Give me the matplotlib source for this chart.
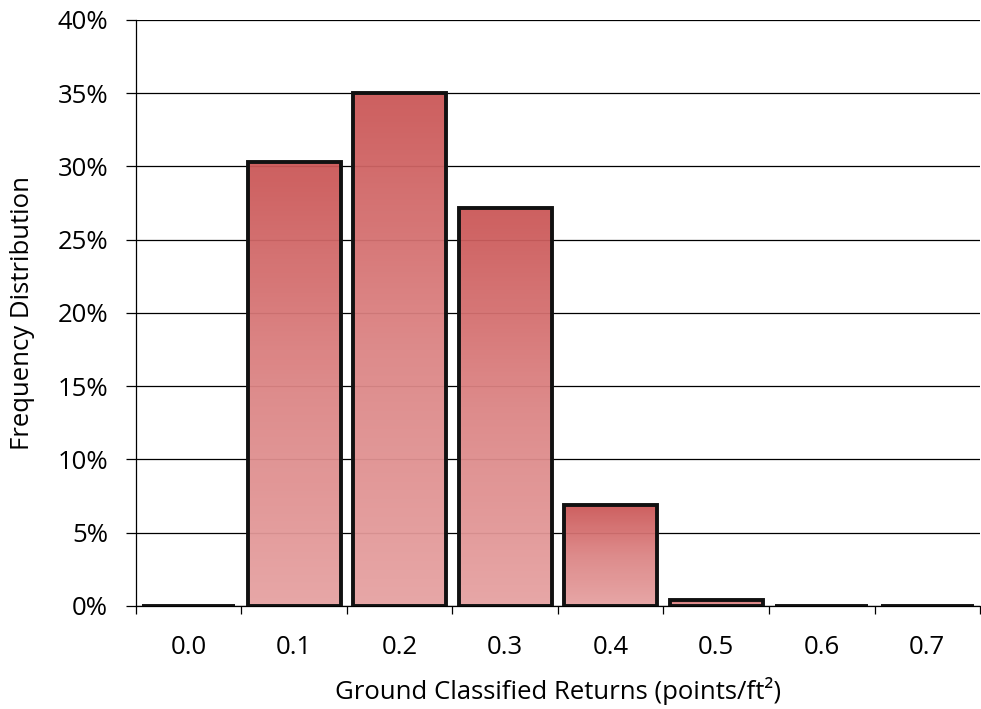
import numpy as np
import matplotlib.pyplot as plt
from matplotlib.colors import LinearSegmentedColormap
from matplotlib.ticker import FuncFormatter

# Data
categories = ["0.0", "0.1", "0.2", "0.3", "0.4", "0.5", "0.6", "0.7"]
freq = [0.0, 30.3, 35.0, 27.2, 6.9, 0.4, 0.0, 0.0]

plt.rcParams['font.family'] = ['Open Sans', 'DejaVu Sans']
fs = 18.5

fig = plt.figure(figsize=(9.81, 7.09), dpi=100)
ax = fig.add_axes([0.1386, 0.1453, 0.8604, 0.8265])

x = np.arange(len(categories))
width = 0.88

# gradient: dark red at top, pale pink at bottom
cmap = LinearSegmentedColormap.from_list("barfade", ["#e6a2a2", "#dc8585", "#cb5757"])
grad = np.linspace(0, 1, 256).reshape(-1, 1)

bars = ax.bar(x, freq, width=width, facecolor="none", edgecolor="#111111",
              linewidth=2.8, zorder=3)
for b, h in zip(bars, freq):
    if h <= 0:
        continue
    x0, x1 = b.get_x(), b.get_x() + b.get_width()
    im = ax.imshow(grad, cmap=cmap, extent=[x0, x1, 0, h], origin="lower",
                   aspect="auto", zorder=2, alpha=0.95, interpolation="bicubic")
    im.set_clip_path(b)

ax.set_xlim(-0.5, len(categories) - 0.5)
ax.set_ylim(0, 40)
ax.set_yticks(np.arange(0, 41, 5))
ax.yaxis.set_major_formatter(FuncFormatter(lambda v, p: f"{v:.0f}%"))
ax.grid(axis="y", color="black", linewidth=0.9, zorder=1)
ax.set_axisbelow(True)

# category labels at centers, tick marks at boundaries
ax.set_xticks(x)
ax.set_xticklabels(categories)
ax.tick_params(axis="x", which="major", length=0, pad=21, labelsize=fs)
ax.set_xticks(np.arange(-0.5, len(categories)), minor=True)
ax.tick_params(axis="x", which="minor", length=6, width=0.9, direction="out")
ax.tick_params(axis="y", length=7, width=0.9, direction="out", labelsize=fs, pad=13)

for s in ["top", "right"]:
    ax.spines[s].set_visible(False)
ax.spines["left"].set_linewidth(0.9)
ax.spines["bottom"].set_linewidth(0.9)

ax.set_xlabel("Ground Classified Returns (points/ft²)", fontsize=fs, labelpad=12)
ax.set_ylabel("Frequency Distribution", fontsize=fs, labelpad=16)

plt.savefig("out.png", dpi=100)
